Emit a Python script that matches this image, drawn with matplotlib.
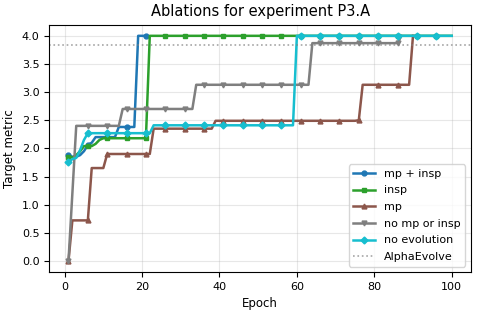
import numpy as np
import matplotlib
matplotlib.use("Agg")
import matplotlib.pyplot as plt

# best-so-far metric, given as (epoch where value changes, new value) + last epoch
MP_INSP_EPOCHS = [1, 2, 4, 5, 6, 7, 8, 14, 19]
MP_INSP_VALUES = [1.88, 1.85, 1.88, 1.95, 2.06, 2.10, 2.20, 2.38, 4.0]
MP_INSP_LAST = 21

INSP_EPOCHS = [1, 3, 4, 5, 8, 9, 10, 22]
INSP_VALUES = [1.84, 1.88, 1.95, 2.04, 2.08, 2.15, 2.18, 4.0]
INSP_LAST = 100

MP_EPOCHS = [1, 2, 7, 11, 23, 39, 76, 77, 90]
MP_VALUES = [0.0, 0.72, 1.65, 1.90, 2.35, 2.49, 2.50, 3.13, 4.0]
MP_LAST = 90

NO_MP_EPOCHS = [1, 2, 3, 15, 34, 64, 87]
NO_MP_VALUES = [0.0, 1.2, 2.40, 2.70, 3.13, 3.87, 4.0]
NO_MP_LAST = 87

NO_EVO_EPOCHS = [1, 2, 3, 4, 5, 6, 23, 60]
NO_EVO_VALUES = [1.75, 1.81, 1.83, 1.97, 2.15, 2.27, 2.41, 4.0]
NO_EVO_LAST = 100

ALPHAEVOLVE = 3.84


def expand(change_epochs, change_values, last):
    epochs = np.arange(1, last + 1)
    idx = np.searchsorted(change_epochs, epochs, side="right") - 1
    return epochs, np.array(change_values)[idx]


series = [
    ("mp + insp", MP_INSP_EPOCHS, MP_INSP_VALUES, MP_INSP_LAST, "tab:blue", "o"),
    ("insp", INSP_EPOCHS, INSP_VALUES, INSP_LAST, "tab:green", "s"),
    ("mp", MP_EPOCHS, MP_VALUES, MP_LAST, "tab:brown", "^"),
    ("no mp or insp", NO_MP_EPOCHS, NO_MP_VALUES, NO_MP_LAST, "tab:gray", "v"),
    ("no evolution", NO_EVO_EPOCHS, NO_EVO_VALUES, NO_EVO_LAST, "tab:cyan", "D"),
]

fig = plt.figure(figsize=(4.79, 3.15), dpi=100)
ax = fig.add_axes([0.103, 0.136, 0.880, 0.786])

for label, ep, vals, last, color, marker in series:
    x, y = expand(ep, vals, last)
    ax.plot(x, y, color=color, marker=marker, markevery=5, markersize=3.5,
            linewidth=1.8, label=label)

ax.axhline(ALPHAEVOLVE, color="gray", linestyle=":", linewidth=1.2, alpha=0.7,
           label="AlphaEvolve")

ax.set_title("Ablations for experiment P3.A", fontsize=10.5)
ax.set_xlabel("Epoch", fontsize=8.5)
ax.set_ylabel("Target metric", fontsize=8.5)
ax.set_yticks(np.arange(0, 4.01, 0.5))
ax.tick_params(labelsize=8)
ax.grid(True, alpha=0.3)
ax.legend(loc="lower right", fontsize=8, labelspacing=0.6)

fig.savefig("out.png", dpi=100)
